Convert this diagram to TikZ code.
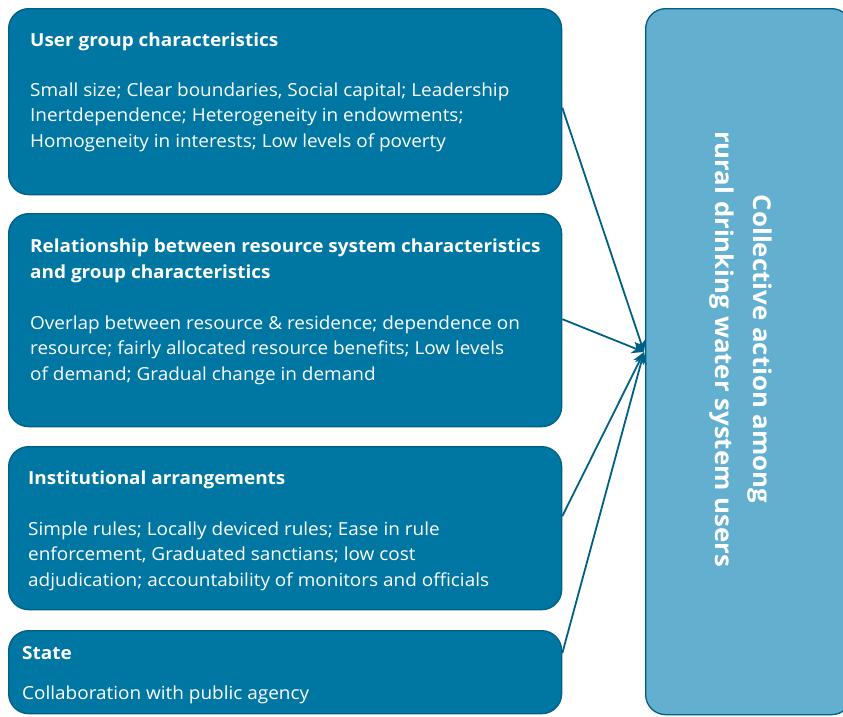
\documentclass[tikz,border=0pt]{standalone}
\usepackage{fontspec}
\setmainfont[FakeStretch=1.053]{Open Sans}
\usetikzlibrary{positioning, arrows.meta}
\definecolor{boxblue}{HTML}{0077A3}
\definecolor{boxedge}{HTML}{005F85}
\definecolor{outblue}{HTML}{62AFD0}
\tikzset{
    factor/.style={draw=boxedge, fill=boxblue, line width=1.3pt, rounded corners=20pt,
        minimum width=553pt, inner sep=0pt, anchor=north west}, % the four input boxes
    heading/.style={text=white, font=\bfseries\fontsize{18}{25.5}\selectfont,
        align=left, anchor=base west, inner sep=0pt},
    detail/.style={text=white, font=\fontsize{18}{25.5}\selectfont,
        align=left, anchor=base west, inner sep=0pt},
    link/.style={draw=boxedge, line width=1.8pt, -{Stealth[length=12pt,width=12pt]}},
}

\begin{document}
\begin{tikzpicture}[x=1pt, y=-1pt]
    \useasboundingbox (0,0) rectangle (843,716);

    % outcome box on the right (runs past the right edge)
    \node[draw=boxedge, fill=outblue, line width=1.3pt, rounded corners=20pt,
        minimum width=206pt, minimum height=706pt, anchor=north west] (action) at (645,8) {};
    \node[text=white, font=\bfseries\fontsize{24.5}{38}\selectfont, align=center, rotate=-90]
        (action text) at (741,349) {Collective action among\\rural drinking water system users};

    % user group (base anchor sits on the last line)
    \node[factor, minimum height=186pt] (user) at (8,8) {};
    \node[heading] (user title) at ([xshift=22pt,yshift=-38pt]user.north west) {User group characteristics};
    \node[detail] (user text) at ([xshift=22pt,yshift=-139pt]user.north west)
        {Small size; Clear boundaries, Social capital; Leadership\\
         Inertdependence; Heterogeneity in endowments;\\
         Homogeneity in interests; Low levels of poverty};

    % resource system vs. group
    \node[factor, minimum height=213pt] (relation) at (8,213) {};
    \node[heading] (relation title) at ([xshift=22pt,yshift=-65pt]relation.north west)
        {Relationship between resource system characteristics\\and group characteristics};
    \node[detail] (relation text) at ([xshift=22pt,yshift=-167pt]relation.north west)
        {Overlap between resource \& residence; dependence on\\
         resource; fairly allocated resource benefits; Low levels\\
         of demand; Gradual change in demand};

    % institutions
    \node[factor, minimum height=163pt] (inst) at (8,446) {};
    \node[heading] (inst title) at ([xshift=20pt,yshift=-38pt]inst.north west) {Institutional arrangements};
    \node[detail] (inst text) at ([xshift=20pt,yshift=-140pt]inst.north west)
        {Simple rules; Locally deviced rules; Ease in rule\\
         enforcement, Graduated sanctians; low cost\\
         adjudication; accountability of monitors and officials};

    % state
    \node[factor, minimum height=83pt] (state) at (8,630) {};
    \node[heading] (state title) at ([xshift=14pt,yshift=-29pt]state.north west) {State};
    \node[detail] (state text) at ([xshift=14pt,yshift=-69pt]state.north west)
        {Collaboration with public agency};

    \coordinate (hub) at (644,352);
    \draw[link] ([yshift=-6pt]user.east) -- (hub);
    \draw[link] ([yshift=1pt]relation.east) -- (hub);
    \draw[link] ([yshift=12pt]inst.east) -- (hub);
    \draw[link] ([yshift=19pt]state.east) -- (hub);
\end{tikzpicture}
\end{document}
